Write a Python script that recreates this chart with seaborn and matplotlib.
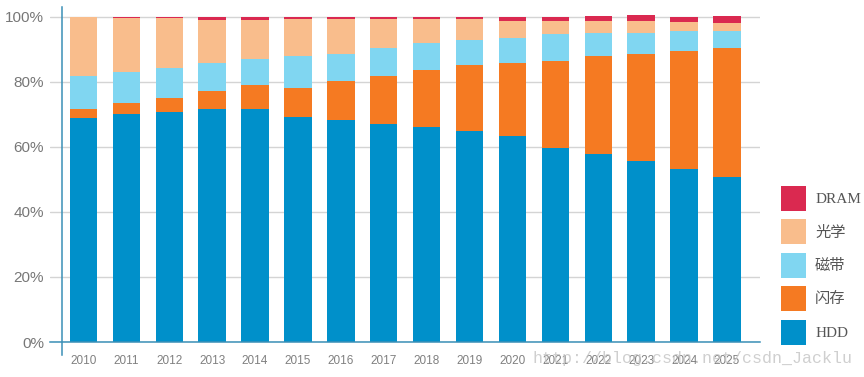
import numpy as np
import matplotlib
matplotlib.use('Agg')
import matplotlib.pyplot as plt
import matplotlib.ticker as ticker
from matplotlib.patches import Patch
import seaborn as sns

# ==================== 数据 (份额 %) ====================
years = [str(y) for y in range(2010, 2026)]
hdd = [68.8, 70.0, 70.7, 71.6, 71.6, 69.2, 68.3, 67.1, 66.2, 65.0, 63.2, 59.8, 57.7, 55.8, 53.2, 50.8]
flash = [2.8, 3.5, 4.3, 5.7, 7.3, 9.0, 11.9, 14.7, 17.4, 20.2, 22.7, 26.6, 30.3, 32.9, 36.4, 39.6]
tape = [10.2, 9.6, 9.2, 8.6, 8.2, 9.8, 8.5, 8.7, 8.4, 7.6, 7.7, 8.2, 7.1, 6.4, 6.0, 5.2]
optical = [18.0, 16.6, 15.5, 13.1, 11.9, 11.2, 10.5, 8.7, 7.3, 6.4, 5.2, 4.2, 3.7, 3.6, 2.8, 2.6]
dram = [0.2, 0.3, 0.3, 1.0, 1.0, 0.8, 0.8, 0.8, 0.7, 0.8, 1.2, 1.2, 1.4, 1.9, 1.4, 2.0]

series_names = ['HDD', '闪存', '磁带', '光学', 'DRAM']
series_vals = [hdd, flash, tape, optical, dram]
COLORS = ['#0090ca', '#f57a22', '#80d6f1', '#f9bd8c', '#da2950']

AXIS_COLOR = '#3a8fb7'

sns.set_style('white')
plt.rcParams['font.family'] = ['Liberation Sans', 'DejaVu Sans']

fig = plt.figure(figsize=(8.64, 3.77), dpi=100)
ax = fig.add_axes([50 / 864, 1 - 342 / 377, 710 / 864, 335 / 377])

# 堆叠柱
bottom = np.zeros(len(years))
for name, vals, color in zip(series_names, series_vals, COLORS):
    vals = np.array(vals)
    sns.barplot(x=years, y=vals, bottom=bottom, color=color, saturation=1,
                width=0.64, linewidth=0, edgecolor='none', ax=ax)
    bottom = bottom + vals

# 坐标轴
ax.set_ylim(0, 103)
ax.set_xlim(-0.78, 15.77)
ax.yaxis.set_major_locator(ticker.FixedLocator([0, 20, 40, 60, 80, 100]))
ax.yaxis.set_major_formatter(ticker.FuncFormatter(lambda v, p: f'{v:.0f}%'))
ax.grid(axis='y', color='#d4d4d4', linewidth=1)
ax.set_axisbelow(True)
ax.set_xlabel('')
ax.set_ylabel('')

for side in ['top', 'right']:
    ax.spines[side].set_visible(False)
ax.spines['left'].set_position(('data', -0.5))
ax.spines['left'].set_bounds(-4, 103)
ax.spines['left'].set_color(AXIS_COLOR)
ax.spines['bottom'].set_color(AXIS_COLOR)
ax.spines['left'].set_linewidth(1.1)
ax.spines['bottom'].set_linewidth(1.1)

ax.tick_params(axis='y', length=0, pad=13, labelsize=11, labelcolor='#777777')
ax.tick_params(axis='x', which='major', length=0, pad=9, labelsize=8.5, labelcolor='#808080')
ax.xaxis.set_minor_locator(ticker.FixedLocator(np.arange(0.5, 16, 1)))
ax.tick_params(axis='x', which='minor', length=6, width=1, color='#8aaabb', direction='out')

# 图例 (DRAM 在上)
handles = [Patch(facecolor=c, edgecolor='none') for c in COLORS][::-1]
labels = series_names[::-1]
leg = fig.legend(handles, labels, loc='upper left',
                 bbox_to_anchor=(781 / 864, 1 - 186 / 377),
                 frameon=False, borderpad=0, borderaxespad=0,
                 handlelength=1.63, handleheight=2.14, labelspacing=0.55,
                 handletextpad=0.6,
                 prop={'family': ['Liberation Serif', 'Noto Sans CJK SC'], 'size': 11})
for t in leg.get_texts():
    t.set_color('#555555')

# 水印
fig.text(533 / 864, 1 - 358 / 377, 'http://blog.csdn.net/csdn_Jacklu',
         family='Liberation Mono', fontsize=12, color='#c4c4c4', alpha=0.8,
         va='center', ha='left')

plt.savefig('out.png', dpi=100)
plt.close()
